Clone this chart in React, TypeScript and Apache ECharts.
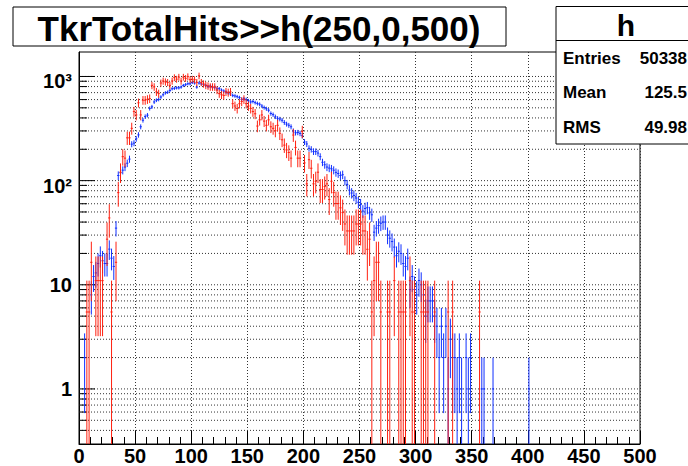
import React, { useEffect, useRef } from 'react';
import * as echarts from 'echarts';

// ---- data ----
const TITLE = 'TkrTotalHits>>h(250,0,500)';
const STATS_NAME = 'h';
const statsLabels = ['Entries', 'Mean', 'RMS'];
const statsValues = ['50338', '125.5', '49.98'];

const BIN_WIDTH = 2; // 250 bins over 0..500
const X_MIN = 0;
const X_MAX = 500;
const X_INTERVAL = 50;
const Y_MIN = 0.296;
const Y_MAX = 1718;

// blue histogram (h), raw counts per bin starting at x = 0
const blueCounts = [
  0, 0, 2, 0, 0, 8, 12, 13, 16, 19,
  17, 16, 16, 22, 18, 15, 35, 112, 119, 126,
  135, 147, 161, 224, 229, 252, 275, 329, 380, 412,
  425, 493, 511, 569, 592, 602, 635, 667, 696, 706,
  735, 762, 770, 778, 778, 791, 820, 835, 851, 851,
  876, 865, 791, 865, 850, 834, 820, 800, 810, 780,
  790, 760, 764, 740, 725, 710, 696, 680, 658, 650,
  640, 627, 602, 610, 602, 585, 569, 575, 561, 550,
  541, 520, 503, 490, 474, 441, 430, 410, 396, 390,
  380, 362, 349, 340, 329, 300, 288, 290, 284, 270,
  235, 225, 204, 200, 190, 190, 184, 170, 150, 142,
  135, 132, 130, 126, 120, 117, 112, 114, 100, 92,
  81, 76, 72, 68, 62, 59, 51, 54, 55, 49,
  47, 32, 35, 37, 39, 40, 40, 30, 28, 26,
  23, 19, 21, 20, 16, 15, 18, 9, 12, 9,
  8, 11, 10, 8, 5, 7, 7, 7, 5, 4,
  2, 4, 2, 4, 1, 3, 2, 2, 1, 2,
  1, 0, 2, 1, 2, 0, 0, 0, 0, 1,
  1, 0, 0, 0, 1, 0, 0, 0, 0, 0,
  0, 0, 0, 0, 0, 0, 0, 0, 0, 0,
  1,
];

// red histogram (weighted), unweighted counts per bin and the per-entry weight
const RED_WEIGHT = 5.48;
const redCounts = [
  0, 0, 0, 1, 1, 3, 0, 2, 2, 2,
  2, 0, 5, 8, 1, 0, 3, 14, 22, 31,
  30, 47, 47, 58, 84, 78, 102, 78, 108, 108,
  110, 112, 150, 145, 130, 125, 158, 165, 162, 160,
  150, 165, 178, 172, 180, 165, 180, 175, 182, 170,
  172, 170, 160, 185, 160, 155, 150, 148, 145, 145,
  145, 135, 125, 122, 120, 130, 128, 130, 100, 95,
  90, 100, 105, 110, 100, 95, 90, 84, 80, 61,
  70, 78, 68, 62, 70, 60, 58, 55, 62, 52,
  45, 40, 36, 34, 30, 50, 38, 30, 30, 54,
  27, 17, 29, 24, 17, 18, 22, 15, 15, 16,
  17, 12, 18, 14, 11, 11, 10, 9, 7, 6,
  6, 6, 6, 7, 7, 7, 6, 6, 4, 5,
  1, 2, 3, 3, 1, 0, 0, 1, 1, 0,
  2, 0, 1, 1, 1, 1, 0, 2, 1, 1,
  0, 0, 1, 1, 1, 1, 0, 0, 1, 0,
  0, 0, 0, 0, 1, 0, 1, 0, 0, 0,
  0, 0, 0, 0, 0, 0, 0, 0, 1,
];

// log-axis grid / tick values
const yGridValues = [
  0.4, 0.5, 0.6, 0.7, 0.8, 0.9,
  1, 2, 3, 4, 5, 6, 7, 8, 9,
  10, 20, 30, 40, 50, 60, 70, 80, 90,
  100, 200, 300, 400, 500, 600, 700, 800, 900,
  1000,
];
const yMajorValues = [1, 10, 100, 1000];
const yTickLabels = ['1', '10', '10²', '10³'];

const FONT = '"Liberation Sans", Arial, Helvetica, sans-serif';
const BLUE = '#1030ff';
const RED = '#ff2010';

function buildData(counts: number[], weight: number) {
  const out: number[][] = [];
  counts.forEach((n, i) => {
    if (n > 0) {
      out.push([i * BIN_WIDTH + BIN_WIDTH / 2, n * weight, Math.sqrt(n) * weight]);
    }
  });
  return out;
}

function errRenderer(color: string) {
  return (params: any, api: any) => {
    const xc = api.value(0);
    const v = api.value(1);
    const e = api.value(2);
    const cs = params.coordSys;
    const yTopEdge = cs.y;
    const yBotEdge = cs.y + cs.height;
    const pc = api.coord([xc, v]);
    const pl = api.coord([xc - BIN_WIDTH / 2, v]);
    const pr = api.coord([xc + BIN_WIDTH / 2, v]);
    let top = api.coord([xc, v + e])[1];
    if (top < yTopEdge) top = yTopEdge;
    const lo = v - e;
    let bot = lo > Y_MIN ? api.coord([xc, lo])[1] : yBotEdge;
    if (bot > yBotEdge) bot = yBotEdge;
    const children: any[] = [
      {
        type: 'line',
        shape: { x1: pc[0], y1: top, x2: pc[0], y2: bot },
        style: { stroke: color, lineWidth: 1 },
      },
    ];
    if (pc[1] >= yTopEdge && pc[1] <= yBotEdge) {
      children.push({
        type: 'line',
        shape: { x1: pl[0], y1: pc[1], x2: pr[0], y2: pc[1] },
        style: { stroke: color, lineWidth: 1 },
      });
    }
    return { type: 'group', children };
  };
}

function labelFor(v: number): string {
  const ex = Math.log10(v);
  const r = Math.round(ex);
  if (Math.abs(ex - r) < 1e-6 && r >= 0 && r < yTickLabels.length) {
    return r >= 2 ? '{sup|' + yTickLabels[r] + '}' : yTickLabels[r];
  }
  return '';
}

export default function App() {
  const ref = useRef<HTMLDivElement>(null);
  useEffect(() => {
    if (!ref.current) return;
    const chart = echarts.init(ref.current, undefined, { renderer: 'svg' });
    const blueData = buildData(blueCounts, 1);
    const redData = buildData(redCounts, RED_WEIGHT);

    const rowY = [58, 92, 127];
    const statGraphics: any[] = [];
    statsLabels.forEach((lab, k) => {
      statGraphics.push({
        type: 'text',
        x: 563,
        y: rowY[k],
        silent: true,
        style: {
          text: lab,
          fill: '#000',
          font: 'bold 17px ' + FONT,
          textAlign: 'left',
          align: 'left',
          textVerticalAlign: 'middle',
          verticalAlign: 'middle',
        },
      });
      statGraphics.push({
        type: 'text',
        x: 687,
        y: rowY[k],
        silent: true,
        style: {
          text: statsValues[k],
          fill: '#000',
          font: 'bold 17px ' + FONT,
          textAlign: 'right',
          align: 'right',
          textVerticalAlign: 'middle',
          verticalAlign: 'middle',
        },
      });
    });

    chart.setOption({
      animation: false,
      backgroundColor: '#fff',
      grid: {
        left: 79,
        top: 52,
        width: 561,
        height: 394,
        show: true,
        borderColor: '#000',
        borderWidth: 1,
        containLabel: false,
      },
      xAxis: {
        type: 'value',
        min: X_MIN,
        max: X_MAX,
        interval: X_INTERVAL,
        axisLine: { show: true, onZero: false, lineStyle: { color: '#000', width: 1 } },
        axisTick: { show: true, inside: true, length: 13, lineStyle: { color: '#000', width: 1 } },
        minorTick: { show: true, splitNumber: 5, length: 7, lineStyle: { color: '#000', width: 1 } },
        axisLabel: {
          color: '#000',
          fontFamily: FONT,
          fontWeight: 'bold',
          fontSize: 20,
          margin: 2,
        },
        splitLine: { show: true, lineStyle: { color: '#333', width: 1, type: [1, 2] } },
      },
      yAxis: {
        type: 'log',
        logBase: 10,
        min: Y_MIN,
        max: Y_MAX,
        axisLine: { show: true, lineStyle: { color: '#000', width: 1 } },
        axisTick: { show: false },
        minorTick: { show: false },
        splitLine: { show: false },
        axisLabel: {
          showMinLabel: false,
          showMaxLabel: false,
          color: '#000',
          fontFamily: FONT,
          fontWeight: 'bold',
          fontSize: 20,
          margin: 7,
          formatter: (v: number) => labelFor(v),
          rich: {
            sup: {
              color: '#000',
              fontFamily: FONT,
              fontWeight: 'bold',
              fontSize: 20,
              padding: [10, 0, 0, 0],
            },
          },
        },
      },
      series: [
        {
          type: 'custom',
          name: 'ygrid',
          silent: true,
          z: 1,
          data: yGridValues.map((v) => [X_MIN, v]),
          encode: { x: 0, y: 1 },
          renderItem: (params: any, api: any) => {
            const v = api.value(1);
            const p0 = api.coord([X_MIN, v]);
            const p1 = api.coord([X_MAX, v]);
            const major = yMajorValues.indexOf(v) >= 0;
            return {
              type: 'group',
              children: [
                {
                  type: 'line',
                  shape: { x1: p0[0], y1: p0[1], x2: p1[0], y2: p1[1] },
                  style: { stroke: '#333', lineWidth: 1, lineDash: [1, 2] },
                },
                {
                  type: 'line',
                  shape: { x1: p0[0], y1: p0[1], x2: p0[0] + (major ? 16 : 8), y2: p0[1] },
                  style: { stroke: '#000', lineWidth: 1 },
                },
              ],
            };
          },
        },
        {
          type: 'custom',
          name: 'blue',
          silent: true,
          z: 3,
          data: blueData,
          encode: { x: 0, y: 1 },
          renderItem: errRenderer(BLUE),
        },
        {
          type: 'custom',
          name: 'red',
          silent: true,
          z: 4,
          data: redData,
          encode: { x: 0, y: 1 },
          renderItem: errRenderer(RED),
        },
      ],
      graphic: [
        {
          type: 'rect',
          silent: true,
          z: 100,
          shape: { x: 13, y: 7, width: 493, height: 39 },
          style: { fill: '#fff', stroke: '#000', lineWidth: 1 },
        },
        {
          type: 'text',
          silent: true,
          z: 101,
          x: 259,
          y: 28,
          style: {
            text: TITLE,
            fill: '#000',
            font: 'bold 35px ' + FONT,
            textAlign: 'center',
            align: 'center',
            textVerticalAlign: 'middle',
            verticalAlign: 'middle',
          },
        },
        {
          type: 'rect',
          silent: true,
          z: 100,
          shape: { x: 556, y: 6.5, width: 140, height: 137.5 },
          style: { fill: '#fff', stroke: '#000', lineWidth: 1 },
        },
        {
          type: 'line',
          silent: true,
          z: 101,
          shape: { x1: 556, y1: 40.5, x2: 696, y2: 40.5 },
          style: { stroke: '#000', lineWidth: 1 },
        },
        {
          type: 'text',
          silent: true,
          z: 101,
          x: 626,
          y: 25,
          style: {
            text: STATS_NAME,
            fill: '#000',
            font: 'bold 30px ' + FONT,
            textAlign: 'center',
            align: 'center',
            textVerticalAlign: 'middle',
            verticalAlign: 'middle',
          },
        },
        ...statGraphics.map((g) => ({ ...g, z: 101 })),
      ],
    });
    return () => {
      chart.dispose();
    };
  }, []);
  return (
    <div
      ref={ref}
      style={{ position: 'fixed', left: 0, top: 0, width: 688, height: 466, background: '#fff' }}
    />
  );
}
